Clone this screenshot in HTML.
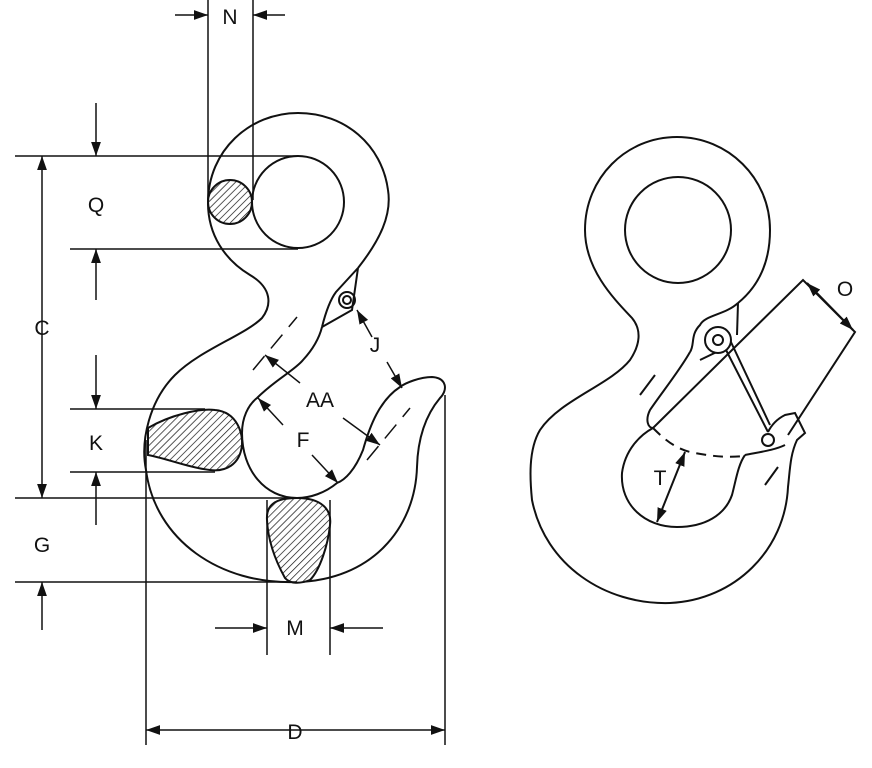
<!DOCTYPE html>
<html><head><meta charset="utf-8"><style>
html,body{margin:0;padding:0;background:#fff;}
svg{display:block;}
text{font-family:"Liberation Sans",sans-serif;font-size:21px;fill:#111;text-anchor:middle;}
</style></head><body>
<svg width="872" height="768" viewBox="0 0 872 768" xmlns="http://www.w3.org/2000/svg">
<defs>
<pattern id="h" width="5" height="5" patternUnits="userSpaceOnUse" patternTransform="rotate(45)">
<rect width="5" height="5" fill="#fff"/><line x1="0" y1="0" x2="0" y2="5" stroke="#111" stroke-width="1.4"/></pattern>
<marker id="a" viewBox="0 0 10 10" refX="10" refY="5" markerWidth="14" markerHeight="14" orient="auto-start-reverse" markerUnits="userSpaceOnUse"><path d="M0,1.5 L10,5 L0,8.5 Z" fill="#111"/></marker>
</defs>
<g fill="none" stroke="#111" stroke-width="2">
<!-- LEFT HOOK -->
<path d="M358,268 C380,240 392,215 388,190 C382,145 345,113 298,113 C250,113 208,150 208,203 C208,235 225,260 250,275 C272,288 272,305 262,318 C245,335 200,350 175,375 C150,400 140,440 146,470 C155,540 220,585 297,582 C370,580 415,530 417,467 C418,430 430,410 440,398 C448,390 447,378 432,377 C420,377 405,383 400,387 C380,400 370,425 363,450 C355,470 345,480 337,483 C325,493 310,498 297,498 C265,498 242,470 242,433 C242,418 248,405 257,398 C275,380 295,370 303,360 C315,347 320,335 322,327"/>
<circle cx="298" cy="202" r="46"/>
<path d="M322,327 L352,310 L358,268 M322,327 C325,315 330,300 336,292 L358,268"/>
<circle cx="347" cy="300" r="8"/><circle cx="347" cy="300" r="4"/>
<circle cx="230" cy="202" r="22" fill="url(#h)"/>
<path d="M148,428 C170,415 200,408 215,410 C238,412 243,435 242,445 C240,465 225,472 210,470 C190,468 165,458 148,455 Z" fill="url(#h)"/>
<path d="M267,520 C266,505 275,498 297,498 C322,498 332,510 330,525 C328,545 320,570 310,580 C300,584 290,584 285,578 C275,560 268,540 267,520 Z" fill="url(#h)"/>
<path d="M253,370 L297,317" stroke-dasharray="18,10" stroke-width="1.5"/>
<path d="M367,460 L410,408" stroke-dasharray="18,10" stroke-width="1.5"/>
<g stroke-width="1.5">
<path d="M208,0 V200 M253,0 V200"/>
<path d="M15,156 H298 M70,249 H298 M70,409 H205 M70,472 H215 M15,498 H297 M15,582 H297"/>
<path d="M267,500 V655 M330,500 V655 M146,440 V745 M445,395 V745"/>
</g>
<g stroke-width="1.5" marker-end="url(#a)">
<path d="M175,15 H208"/><path d="M285,15 H253"/>
<path d="M96,103 V156"/><path d="M96,300 V249"/>
<path d="M96,355 V409"/><path d="M96,525 V472"/>
<path d="M42,630 V582"/>
<path d="M215,628 H267"/><path d="M383,628 H330"/>
<path d="M300,383 L265,355"/><path d="M343,418 L380,445"/>
<path d="M283,425 L258,398"/><path d="M312,455 L338,483"/>
<path d="M372,337 L357,310"/><path d="M387,362 L402,388"/>
</g>
<path d="M42,156 V498" stroke-width="1.5" marker-start="url(#a)" marker-end="url(#a)"/>
<path d="M146,730 H445" stroke-width="1.5" marker-start="url(#a)" marker-end="url(#a)"/>
<!-- RIGHT HOOK -->
<path d="M738,303 C760,285 770,260 770,230 C770,178 728,137 677,137 C626,137 585,178 585,230 C585,270 615,300 632,318 C642,330 640,345 630,360 C610,385 560,400 540,430 C528,450 530,480 532,500 C545,565 605,605 670,603 C735,600 785,550 788,487 C790,470 790,455 797,440 L805,433 L795,413 L785,415 C775,420 770,428 768,432"/>
<circle cx="678" cy="230" r="53"/>
<path d="M738,303 L737,335 M738,303 C725,315 705,315 700,325 C690,335 695,345 690,352"/>
<path d="M653,428 C640,435 625,450 622,473 C620,505 645,527 677,527 C705,527 725,515 732,495 C736,480 738,465 745,455"/>
<path d="M745,455 C760,452 775,450 785,445"/>
<path d="M653,428 L803,280 L855,332 L788,435"/>
<path d="M690,352 C680,370 660,395 650,410 C645,420 648,428 653,428"/>
<path d="M700,360 L725,348 L768,432 M730,340 L770,425"/>
<circle cx="718" cy="340" r="13" fill="#fff"/><circle cx="718" cy="340" r="5"/>
<circle cx="768" cy="440" r="6"/>
<path d="M653,428 C665,440 675,448 690,452 C710,456 725,458 745,456" stroke-dasharray="10,7"/>
<path d="M640,395 L655,375 M765,485 L778,467"/>
<path d="M685,452 L657,522" marker-start="url(#a)" marker-end="url(#a)"/>
<path d="M807,283 L853,330" marker-start="url(#a)" marker-end="url(#a)"/>
</g>
<text x="230" y="24">N</text>
<text x="96" y="212">Q</text>
<text x="42" y="335">C</text>
<text x="96" y="450">K</text>
<text x="42" y="552">G</text>
<text x="295" y="635">M</text>
<text x="295" y="739">D</text>
<text x="320" y="407">AA</text>
<text x="303" y="447">F</text>
<text x="375" y="352">J</text>
<text x="660" y="485" font-size="17">T</text>
<text x="845" y="296" font-size="17">O</text>
</svg>
</body></html>
